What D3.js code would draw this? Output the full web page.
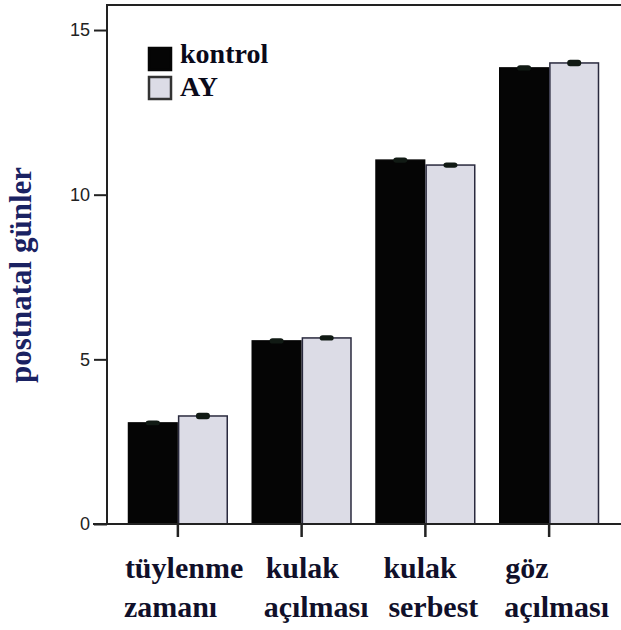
<!DOCTYPE html>
<html><head><meta charset="utf-8">
<script src="https://cdn.jsdelivr.net/npm/d3@7"></script>
<style>body{margin:0;background:#fff}svg{display:block}
.serif{font-family:'Liberation Serif','Times New Roman','DejaVu Serif',serif;font-weight:bold}</style>
</head><body>
<svg id="c" width="621" height="630"></svg>
<script>
const categories = ["tüylenme zamanı", "kulak açılması", "kulak serbest", "göz açılması"];
const categoryLines = [["tüylenme", "zamanı"], ["kulak", "açılması"], ["kulak", "serbest"], ["göz", "açılması"]];
const seriesNames = ["kontrol", "AY"];
const kontrol = [3.07, 5.56, 11.05, 13.85];
const ay = [3.28, 5.65, 10.9, 14.0];
const kontrolErr = [0.04, 0.05, 0.05, 0.05];
const ayErr = [0.07, 0.05, 0.05, 0.07];
const yTicks = [0, 5, 10, 15];
const yTitle = "postnatal günler";

// layout-only label nudges (px from tick centre)
const labelNudge = [[-53, -54], [-36, -38], [-42, -37], [-44, -45]];

const svg = d3.select("#c");
const x0 = 107, yBase = 524, yTop = 5, xRight = 621;
const x = d3.scaleBand().domain(categories).range([116, 611]).paddingInner(0.19).paddingOuter(0.095);
const xs = d3.scaleBand().domain(seriesNames).range([0, x.bandwidth()]);
const y = d3.scaleLinear().domain([0, 15.76]).range([yBase, yTop]);

const data = categories.map((c, i) => ({c, vals: [
  {s: "kontrol", v: kontrol[i], e: kontrolErr[i]},
  {s: "AY", v: ay[i], e: ayErr[i]}
]}));

const fills = {kontrol: "#050505", AY: "#dcdce6"};
const strokes = {kontrol: "#050505", AY: "#2a2a3e"};

svg.append("line").attr("x1", x0).attr("x2", xRight).attr("y1", yTop).attr("y2", yTop)
  .attr("stroke", "#222").attr("stroke-width", 2);

const g = svg.append("g");
data.forEach(d => {
  d.vals.forEach(b => {
    const bx = x(d.c) + xs(b.s);
    g.append("rect").attr("x", bx + 0.75).attr("y", y(b.v))
      .attr("width", xs.bandwidth() - 1.5).attr("height", yBase - y(b.v))
      .attr("fill", fills[b.s]).attr("stroke", strokes[b.s]).attr("stroke-width", 1.5);
    const cx = bx + xs.bandwidth() / 2;
    g.append("line").attr("x1", cx).attr("x2", cx).attr("y1", y(b.v + b.e)).attr("y2", y(b.v - b.e))
      .attr("stroke", "#111").attr("stroke-width", 2);
    g.append("rect").attr("x", cx - 7).attr("y", y(b.v + b.e) - 1).attr("width", 14)
      .attr("height", Math.max(4, y(b.v - b.e) - y(b.v + b.e) + 2)).attr("rx", 3)
      .attr("fill", "#111a14");
  });
});

const yAxis = d3.axisLeft(y).tickValues(yTicks).tickSize(13).tickPadding(4).tickFormat(d3.format("d"));
const ya = svg.append("g").attr("transform", `translate(${x0},0)`).call(yAxis);
ya.select(".domain").remove();
ya.selectAll(".tick line").attr("stroke", "#222").attr("stroke-width", 2);
ya.selectAll(".tick text").attr("font-family", "'Liberation Sans', Arial, sans-serif")
  .attr("font-size", 18).attr("fill", "#222");
svg.append("line").attr("x1", x0).attr("x2", x0).attr("y1", yTop - 1).attr("y2", yBase + 1)
  .attr("stroke", "#222").attr("stroke-width", 2);

const xAxis = d3.axisBottom(x).tickSize(13).tickFormat("");
const xa = svg.append("g").attr("transform", `translate(0,${yBase})`).call(xAxis);
xa.select(".domain").remove();
xa.selectAll(".tick line").attr("stroke", "#222").attr("stroke-width", 2.5);
svg.append("line").attr("x1", x0 - 14).attr("x2", xRight).attr("y1", yBase).attr("y2", yBase)
  .attr("stroke", "#222").attr("stroke-width", 2);

categories.forEach((c, i) => {
  const cx = x(c) + x.bandwidth() / 2;
  categoryLines[i].forEach((ln, j) => {
    svg.append("text").attr("class", "serif").attr("x", cx + labelNudge[i][j]).attr("y", 578 + j * 39)
      .attr("font-size", 30).attr("fill", "#10102a").text(ln);
  });
});

svg.append("text").attr("class", "serif").attr("transform", "translate(31,275) rotate(-90)")
  .attr("text-anchor", "middle").attr("font-size", 31).attr("fill", "#1a2262").text(yTitle);

const leg = svg.append("g");
seriesNames.forEach((s, i) => {
  leg.append("rect").attr("x", 149).attr("y", 48 + i * 29).attr("width", 22).attr("height", 22)
    .attr("fill", fills[s]).attr("stroke", s === "AY" ? "#333" : "#050505").attr("stroke-width", 2.5);
  leg.append("text").attr("class", "serif").attr("x", 180).attr("y", 63 + i * 33)
    .attr("font-size", 28).attr("fill", "#0a0a1a").text(s);
});
</script>
</body></html>
